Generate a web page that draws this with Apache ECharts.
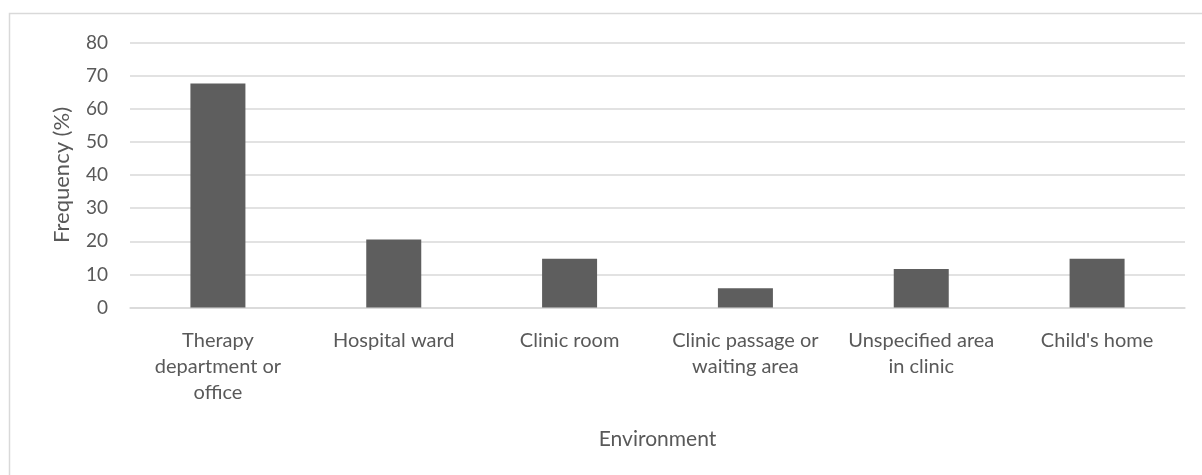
<!DOCTYPE html>
<html>
<head>
<meta charset="utf-8">
<script src="https://cdn.jsdelivr.net/npm/echarts@6/dist/echarts.min.js"></script>
<style>
    html, body { margin: 0; padding: 0; background: #fff; }
    #chart { width: 1202px; height: 475px; }
</style>
</head>
<body>
<div id="chart"></div>
<script>
    // categories as they wrap under the axis
    const environments = [
        'Therapy\ndepartment or\noffice',
        'Hospital ward',
        'Clinic room',
        'Clinic passage or\nwaiting area',
        'Unspecified area\nin clinic',
        "Child's home"
    ];
    const frequency = [67.6, 20.5, 14.7, 5.8, 11.6, 14.7];
    const yTicks = { min: 0, max: 80, interval: 10 };

    const textColor = '#595959';
    const font = 'Lato, "Open Sans", sans-serif';

    const chart = echarts.init(document.getElementById('chart'));
    chart.setOption({
        backgroundColor: '#ffffff',
        animation: false,
        textStyle: { fontFamily: font },
        graphic: [{
            type: 'rect',
            shape: { x: 9.5, y: 13.5, width: 1300, height: 600 },
            style: { fill: 'none', stroke: '#d9d9d9', lineWidth: 1.5 },
            silent: true
        }],
        grid: {
            left: 130,
            right: 17,
            top: 42.5,
            bottom: 167.5
        },
        xAxis: {
            type: 'category',
            data: environments,
            name: 'Environment',
            nameLocation: 'middle',
            nameGap: 121,
            nameTextStyle: { color: textColor, fontSize: 21, fontFamily: font },
            axisLine: { lineStyle: { color: '#d9d9d9', width: 1.5 } },
            axisTick: { show: false },
            axisLabel: {
                interval: 0,
                color: textColor,
                fontSize: 20,
                lineHeight: 26,
                margin: 20,
                fontFamily: font
            }
        },
        yAxis: {
            type: 'value',
            min: yTicks.min,
            max: yTicks.max,
            interval: yTicks.interval,
            name: 'Frequency (%)',
            nameLocation: 'middle',
            nameGap: 57,
            nameTextStyle: { color: textColor, fontSize: 22, fontFamily: font },
            axisLine: { show: false },
            axisTick: { show: false },
            axisLabel: { color: textColor, fontSize: 19, margin: 22, fontFamily: font },
            splitLine: { lineStyle: { color: '#d9d9d9', width: 1.5 } }
        },
        series: [{
            type: 'bar',
            data: frequency,
            barWidth: 55,
            itemStyle: { color: '#5e5e5e' }
        }]
    });
</script>
</body>
</html>
